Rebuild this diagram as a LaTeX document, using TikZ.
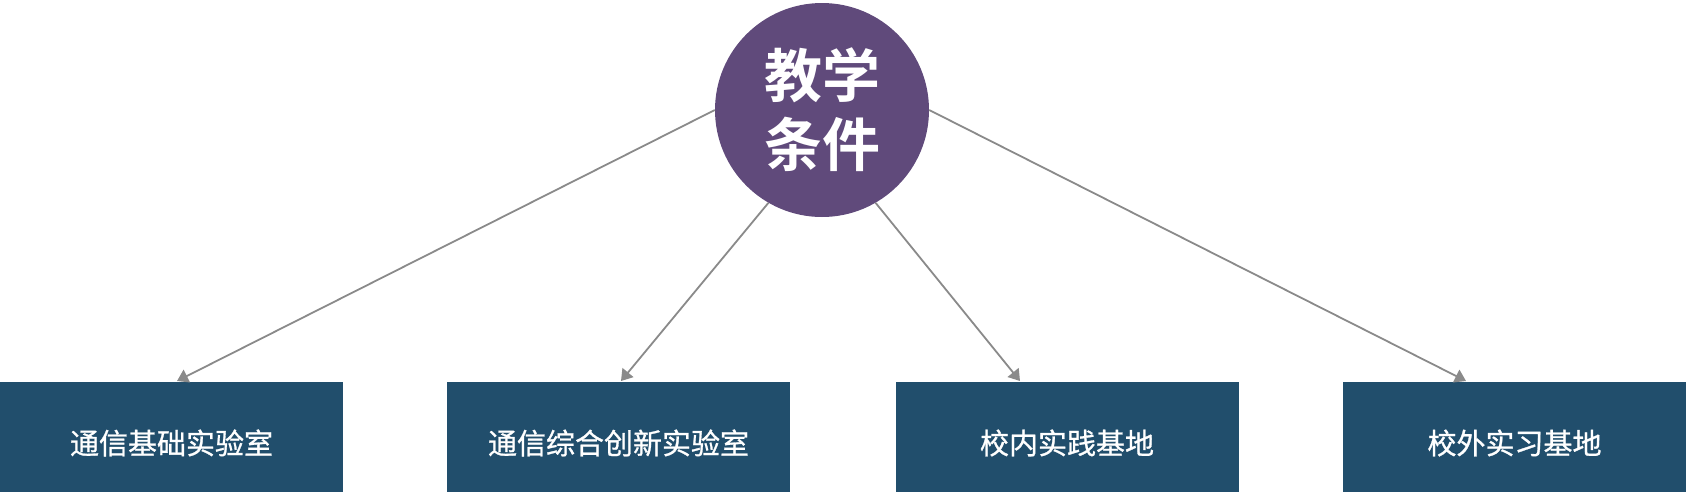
\documentclass[tikz,border=0pt]{standalone}
\usepackage{fontspec}
\newfontfamily\cjkb{Noto Sans CJK SC Bold}
\newfontfamily\cjkm[FakeBold=0.9]{Noto Sans CJK SC}
\usetikzlibrary{arrows.meta}
\definecolor{hubpurple}{HTML}{604A7B}
\definecolor{boxblue}{HTML}{214E6C}
\definecolor{linegray}{HTML}{8A8A8A}
\tikzset{
  hub/.style={circle, fill=hubpurple, minimum size=214pt, inner sep=0pt, text=white, align=center, font=\cjkb\fontsize{58}{69}\selectfont},
  leafbox/.style={rectangle, fill=boxblue, minimum width=343pt, minimum height=110pt, inner sep=0pt},
  leaftext/.style={text=white, inner sep=0pt, font=\cjkm\fontsize{29}{34}\selectfont},
  conn/.style={draw=linegray, line width=1.8pt, -{Triangle[width=14pt,length=11pt]}}
}
\begin{document}
\begin{tikzpicture}[x=1pt,y=-1pt]
\useasboundingbox (0,0) rectangle (1686,493);
\node[hub] (c) at (822,110) {教学\\条件};
\node[leafbox] (b1) at (171.5,437) {};
\node[leafbox] (b2) at (618.5,437) {};
\node[leafbox] (b3) at (1067,437) {};
\node[leafbox] (b4) at (1514.5,437) {};
\node[leaftext] (t1) at (171.5,443) {通信基础实验室};
\node[leaftext] (t2) at (618.5,443) {通信综合创新实验室};
\node[leaftext] (t3) at (1067,443) {校内实践基地};
\node[leaftext] (t4) at (1514.5,443) {校外实习基地};
\coordinate (e1) at (177,381);
\coordinate (e2) at (621,381);
\coordinate (e3) at (1020,381);
\coordinate (e4) at (1466,381);
\draw[conn] (c.180) -- (e1);
\draw[conn] (c.-120) -- (e2);
\draw[conn] (c.-60) -- (e3);
\draw[conn] (c.0) -- (e4);
\end{tikzpicture}
\end{document}
